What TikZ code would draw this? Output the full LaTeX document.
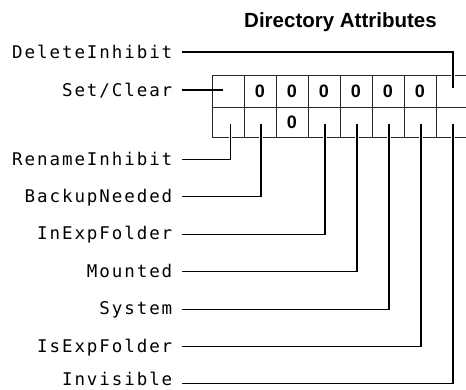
\documentclass[tikz,border=0pt]{standalone}
\usepackage{fontspec}
\setmainfont{Liberation Sans}
\newfontfamily\lblfont[LetterSpace=11]{DejaVu Sans Mono}
\usetikzlibrary{positioning,calc}
\tikzset{
  field/.style={font=\lblfont\fontsize{17.5}{17.5}\selectfont,anchor=east,
    inner xsep=9.5pt,inner ysep=0pt,text height=12.8pt,text depth=0pt},
  bitval/.style={font=\bfseries\fontsize{18}{18}\selectfont,inner sep=0pt,
    text height=12.9pt,text depth=0pt},
  cellline/.style={line width=1pt,black!85},
  leader/.style={line width=1.1pt,preaction={draw,white,line width=3.5pt}},
  plainleader/.style={line width=1.1pt}
}

\begin{document}
\begin{tikzpicture}[x=1pt,y=-1pt]
        \useasboundingbox (0,0) rectangle (466,389);
        \node[font=\bfseries\fontsize{20.5}{20.5}\selectfont,anchor=base,inner sep=0pt]
          (title) at (340.5,27.3) {Directory Attributes};
        % the attribute word
        \draw[cellline] (466,75.5) -| (212,137.5) -- (466,137.5);
        \draw[cellline] (212,107) -- (466,107);
        \foreach \x in {244,276,...,436}
          \draw[cellline] (\x,75.5) -- (\x,137.5);
        \foreach \x in {260,292,...,420}
          \node[bitval] (zero\x) at (\x,91.5) {0};
        \node[bitval] (zerolow) at (292,122.5) {0};
        % where the leaders end
        \coordinate (delinh) at (453,88);
        \coordinate (setclr) at (223,90);
        \foreach \n/\x in {ren/230.5,bak/261,inx/325,mnt/357,sys/389,isx/421,inv/453}
          \coordinate (\n) at (\x,124);
        % field names
        \node[field] (delinhL) at (182,52) {DeleteInhibit};
        \node[field] (setclrL) at (182,90) {Set/Clear};
        \node[field,text depth=1.5pt] (renL) at (182,159.5) {RenameInhibit};
        \node[field,text depth=1.5pt] (bakL) at (182,196.9) {BackupNeeded};
        \node[field,text depth=1.5pt] (inxL) at (182,234.3) {InExpFolder};
        \node[field,text depth=1.5pt] (mntL) at (182,271.7) {Mounted};
        \node[field,text depth=1.5pt] (sysL) at (182,309.1) {System};
        \node[field,text depth=1.5pt] (isxL) at (182,346.5) {IsExpFolder};
        \node[field,text depth=9pt] (invL) at (182,383.9) {Invisible};
        \draw[leader] (delinhL.east) -| (delinh);
        \draw[plainleader] (setclrL.east) -- (setclr);
        \foreach \n in {ren,bak,inx,mnt,sys,isx,inv}
          \draw[leader] (\n L.east) -| (\n);
      \end{tikzpicture}
\end{document}
